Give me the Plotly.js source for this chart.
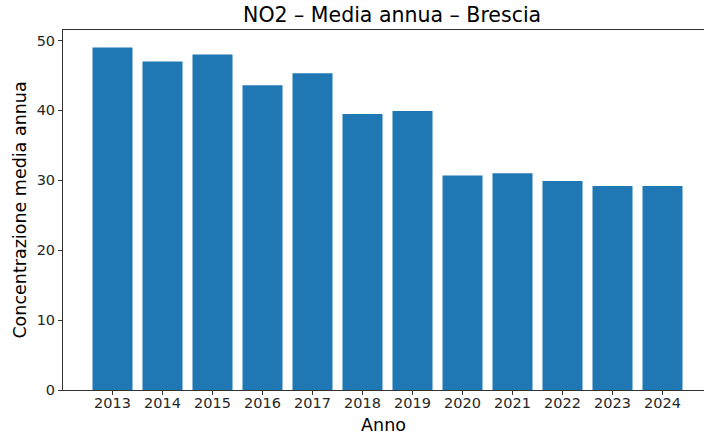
<!DOCTYPE html>
<html>
<head>
<meta charset="utf-8">
<script src="https://cdn.plot.ly/plotly-3.0.1.min.js"></script>
<style>html,body{margin:0;padding:0;overflow:hidden;background:#fff}</style>
</head>
<body>
<div id="chart" style="width:704px;height:437px"></div>
<script>
const years = [2013, 2014, 2015, 2016, 2017, 2018, 2019, 2020, 2021, 2022, 2023, 2024];
const no2Mean = [49.0, 47.0, 48.0, 43.6, 45.3, 39.5, 39.9, 30.7, 31.0, 29.9, 29.2, 29.2];
const yTicks = [0, 10, 20, 30, 40, 50];

const font = "DejaVu Sans, sans-serif";
const trace = {
  type: 'bar',
  x: years,
  y: no2Mean,
  width: 0.8,
  marker: {color: '#1f77b4', line: {width: 0}},
  hoverinfo: 'x+y'
};
const layout = {
  width: 704, height: 437,
  margin: {l: 63, r: 0, t: 30, b: 47},
  paper_bgcolor: '#fff', plot_bgcolor: '#fff',
  font: {family: font, color: '#262626', size: 14},
  title: {text: 'NO2 – Media annua – Brescia', font: {family: font, size: 20.5, color: '#000'},
          x: 0.557, xanchor: 'center', y: 0.982, yanchor: 'top', yref: 'container'},
  xaxis: {
    range: [2012.01, 2024.83],
    tickvals: years, ticktext: years.map(String),
    ticks: 'outside', ticklen: 4, tickwidth: 1, tickcolor: '#333',
    ticklabelstandoff: -4,
    showline: true, mirror: true, linecolor: '#333', linewidth: 1,
    showgrid: false, zeroline: false,
    tickfont: {size: 14.5, color: '#262626'},
    title: {text: 'Anno', font: {size: 17.5, color: '#000'}, standoff: 8}
  },
  yaxis: {
    range: [0, 51.5],
    tickvals: yTicks,
    ticks: 'outside', ticklen: 4, tickwidth: 1, tickcolor: '#333',
    showline: true, linecolor: '#333', linewidth: 1,
    showgrid: false, zeroline: false,
    tickfont: {size: 14.5, color: '#262626'},
    title: {text: 'Concentrazione media annua', font: {size: 17.5, color: '#000'}, standoff: 5}
  },
  showlegend: false,
  bargap: 0.2
};
Plotly.newPlot('chart', [trace], layout, {displayModeBar: false, staticPlot: true});
</script>
</body>
</html>
